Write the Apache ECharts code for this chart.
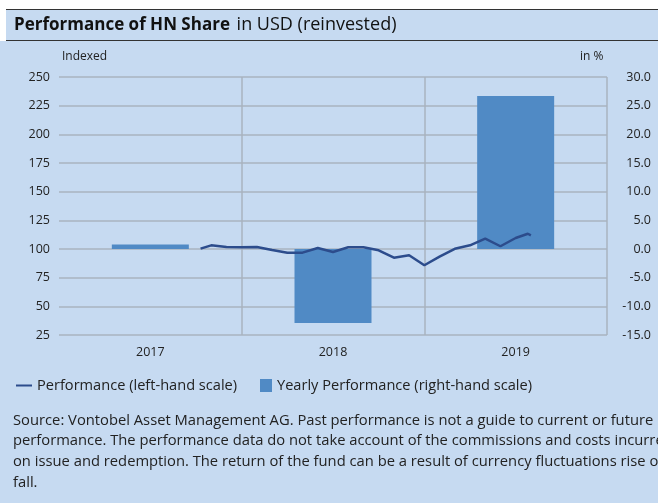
<!DOCTYPE html>
<html>
<head>
<meta charset="utf-8">
<script src="https://cdn.jsdelivr.net/npm/echarts@6/dist/echarts.min.js"></script>
<style>
  html, body { margin: 0; padding: 0; background: #c6daf1; }
  #chart { width: 658px; height: 503px; }
</style>
</head>
<body>
<div id="chart"></div>
<script>
// data
var years = ['2017', '2018', '2019'];
var yearlyPerf = [0.8, -12.9, 26.7];          // right-hand scale, in %
// months since Jan 2017 (x) and indexed value (y)
var perfMonths = [9.3, 10, 11, 12, 13, 14, 15, 16, 17, 18, 19, 20, 21, 22, 23, 24, 25, 26, 27, 28, 29, 30, 30.8, 31];
var perfValues = [100.3, 103.2, 101.7, 101.5, 101.7, 99.1, 96.8, 96.8, 100.9, 97.4, 101.5, 101.5, 98.9, 92.4, 94.5, 85.8, 93.4, 100.2, 103.2, 109.0, 102.4, 109.6, 113.3, 111.9];
var sourceLines = [
    'Source: Vontobel Asset Management AG. Past performance is not a guide to current or future',
    'performance. The performance data do not take account of the commissions and costs incurred',
    'on issue and redemption. The return of the fund can be a result of currency fluctuations rise or',
    'fall.'
];

var FONT = '"Open Sans", "Noto Sans", sans-serif';
var gridColor = '#a9b3bf';
var lineName = 'Performance (left-hand scale)';
var barName = 'Yearly Performance (right-hand scale)';

var lineData = [];
for (var i = 0; i < perfMonths.length; i++) {
    lineData.push([perfMonths[i], perfValues[i]]);
}

var chart = echarts.init(document.getElementById('chart'));

var graphics = [
    // white strip on top and header band
    { type: 'rect', left: 0, top: 0, shape: { width: 658, height: 9 }, style: { fill: '#fff' }, silent: true },
    { type: 'rect', left: 0, top: 9, shape: { width: 6, height: 32 }, style: { fill: '#fff' }, silent: true },
    { type: 'line', shape: { x1: 6, y1: 9.5, x2: 658, y2: 9.5 }, style: { stroke: '#333', lineWidth: 1 }, silent: true },
    { type: 'line', shape: { x1: 6, y1: 40.5, x2: 658, y2: 40.5 }, style: { stroke: '#333', lineWidth: 1 }, silent: true },
    {
        type: 'text', left: 14, top: 16,
        style: {
            text: '{b|Performance of HN Share}  {r|in USD (reinvested)}',
            rich: {
                b: { fontFamily: FONT, fontSize: 17, fontWeight: 'bold', fill: '#111' },
                r: { fontFamily: FONT, fontSize: 18, fill: '#111' }
            }
        }
    },
    { type: 'text', left: 62, top: 51, style: { text: 'Indexed', fontFamily: FONT, fontSize: 12, fill: '#222' } },
    { type: 'text', left: 580, top: 51, style: { text: 'in %', fontFamily: FONT, fontSize: 12, fill: '#222' } }
];
for (var k = 0; k < sourceLines.length; k++) {
    graphics.push({
        type: 'text', left: 13, top: 413 + k * 20.7,
        style: { text: sourceLines[k], fontFamily: FONT, fontSize: 14.75, fill: '#222' }
    });
}

var legendText = { fontFamily: FONT, fontSize: 14.6, color: '#222' };

var option = {
    backgroundColor: '#c6daf1',
    animation: false,
    textStyle: { fontFamily: FONT },
    grid: { left: 59, right: 51, top: 77, bottom: 168, containLabel: false },
    legend: [
        {
            left: 10, top: 373,
            itemWidth: 16, itemHeight: 13,
            textStyle: legendText,
            data: [{ name: lineName, itemStyle: { opacity: 0 } }]
        },
        {
            left: 255, top: 373,
            itemWidth: 12, itemHeight: 13,
            textStyle: legendText,
            data: [{ name: barName, icon: 'rect' }]
        }
    ],
    xAxis: [
        {
            type: 'category',
            data: years,
            boundaryGap: true,
            axisLine: { show: false },
            axisTick: { show: false },
            axisLabel: { color: '#222', fontSize: 12.5, margin: 11 },
            splitLine: { show: true, showMinLine: false, lineStyle: { color: gridColor, width: 1.5 } }
        },
        {
            type: 'value',
            min: 0, max: 36,
            show: false
        }
    ],
    yAxis: [
        {
            type: 'value',
            min: 25, max: 250, interval: 25,
            axisLine: { show: false },
            axisTick: { show: false },
            axisLabel: { color: '#222', fontSize: 12.5, margin: 9 },
            splitLine: { lineStyle: { color: gridColor, width: 1.5 } }
        },
        {
            type: 'value',
            min: -15, max: 30, interval: 5,
            axisLine: { show: false },
            axisTick: { show: false },
            axisLabel: {
                color: '#222', fontSize: 12.5, margin: 44, align: 'right',
                formatter: function (v) { return v.toFixed(1); }
            },
            splitLine: { show: false }
        }
    ],
    series: [
        {
            name: barName,
            type: 'bar',
            xAxisIndex: 0,
            yAxisIndex: 1,
            data: yearlyPerf,
            barWidth: 77,
            itemStyle: { color: '#508ac5' },
            z: 2
        },
        {
            name: lineName,
            type: 'line',
            xAxisIndex: 1,
            yAxisIndex: 0,
            data: lineData,
            symbol: 'none',
            lineStyle: { color: '#2c4c8c', width: 2.5 },
            itemStyle: { color: '#2c4c8c' },
            z: 3
        }
    ],
    graphic: graphics
};

chart.setOption(option);
</script>
</body>
</html>
